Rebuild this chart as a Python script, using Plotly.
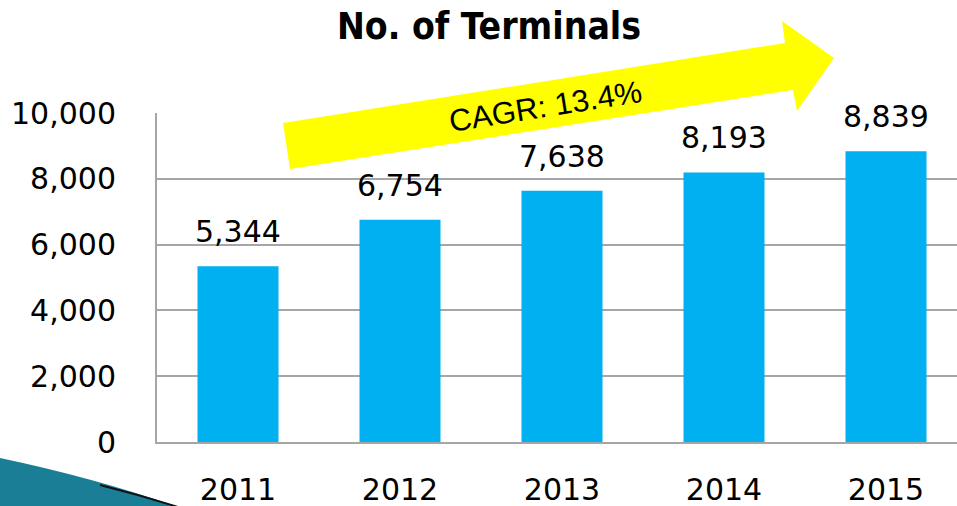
import plotly.graph_objects as go

years = ["2011", "2012", "2013", "2014", "2015"]
terminals = [5344, 6754, 7638, 8193, 8839]
y_ticks = [0, 2000, 4000, 6000, 8000, 10000]
y_tick_labels = ["0", "2,000", "4,000", "6,000", "8,000", "10,000"]
title_text = "No. of Terminals"
cagr_text = "CAGR: 13.4%"

W, H = 957, 506
L, R, T, B = 157, 0, 113, 64
PW, PH = W - L - R, H - T - B

def px(xp):
    return (xp - L) / PW

def py(yp):
    return (H - B - yp) / PH

def path(points):
    return "M " + " L ".join(f"{px(a):.5f},{py(b):.5f}" for a, b in points) + " Z"

font_main = "DejaVu Sans"

fig = go.Figure()
fig.add_trace(go.Bar(
    x=list(range(len(years))), y=terminals, width=0.5,
    marker=dict(color="#00B0F0", line=dict(width=0)),
    hoverinfo="skip",
))

annotations = []
for i, v in enumerate(terminals):
    annotations.append(dict(
        x=i, y=v, xref="x", yref="y", text=f"{v:,}", showarrow=False,
        yanchor="bottom", yshift=15,
        font=dict(family=font_main, size=30, color="#000000"),
    ))

# arrow (decoration)
arrow = [(283, 123), (785, 43), (782, 21), (834, 58), (797, 111), (793, 90), (290, 169)]
shapes = [dict(type="path", xref="paper", yref="paper", path=path(arrow),
               fillcolor="#FFFF00", line=dict(width=0), layer="below")]

# bottom-left swoosh decoration
sw = ("M {a},{b} Q {c},{d} {e},{f} L {g},{h} Z").format(
    a=f"{px(0):.5f}", b=f"{py(458):.5f}",
    c=f"{px(95):.5f}", d=f"{py(478):.5f}",
    e=f"{px(178):.5f}", f=f"{py(507):.5f}",
    g=f"{px(0):.5f}", h=f"{py(507):.5f}")
shapes.append(dict(type="path", xref="paper", yref="paper", path=sw,
                   fillcolor="#1A7E96", line=dict(width=0), layer="above"))
edge = ("M {a},{b} Q {c},{d} {e},{f}").format(
    a=f"{px(100):.5f}", b=f"{py(485):.5f}",
    c=f"{px(140):.5f}", d=f"{py(495):.5f}",
    e=f"{px(178):.5f}", f=f"{py(507):.5f}")
shapes.append(dict(type="path", xref="paper", yref="paper", path=edge,
                   line=dict(width=2, color="#111111"), layer="above"))

annotations.append(dict(
    x=px(545), y=py(106), xref="paper", yref="paper", text=cagr_text,
    showarrow=False, textangle=-9, xanchor="center", yanchor="middle",
    font=dict(family="Liberation Sans", size=31, color="#000000"),
))

fig.update_layout(
    width=W, height=H,
    margin=dict(l=L, r=R, t=T, b=B, pad=0, autoexpand=False),
    paper_bgcolor="white", plot_bgcolor="white",
    showlegend=False,
    title=dict(text=f"<b>{title_text}</b>", x=px(489), xref="paper", xanchor="center",
               y=1 - 26 / H, yref="container", yanchor="middle", automargin=False,
               font=dict(family="DejaVu Sans Condensed, DejaVu Sans", size=37, color="#000000")),
    shapes=shapes,
    annotations=annotations,
    xaxis=dict(
        range=[-0.5, (W - R - L) / 162 - 0.5],
        tickmode="array", tickvals=list(range(len(years))), ticktext=years,
        showgrid=False, zeroline=False, automargin=False,
        showline=True, linecolor="#A6A6A6", linewidth=2,
        ticks="", ticklabelstandoff=20,
        tickfont=dict(family=font_main, size=30, color="#000000"),
        fixedrange=True,
    ),
    yaxis=dict(
        range=[0, 10000],
        tickmode="array", tickvals=y_ticks, ticktext=y_tick_labels,
        showgrid=True, gridcolor="#A6A6A6", gridwidth=2,
        zeroline=False, automargin=False,
        showline=True, linecolor="#A6A6A6", linewidth=2,
        ticks="", ticklabelstandoff=33,
        tickfont=dict(family=font_main, size=30, color="#000000"),
        fixedrange=True,
    ),
)

fig.write_html("out.html", config={"displayModeBar": False},
               post_script="document.body.style.margin='0';document.body.style.overflow='hidden';")
